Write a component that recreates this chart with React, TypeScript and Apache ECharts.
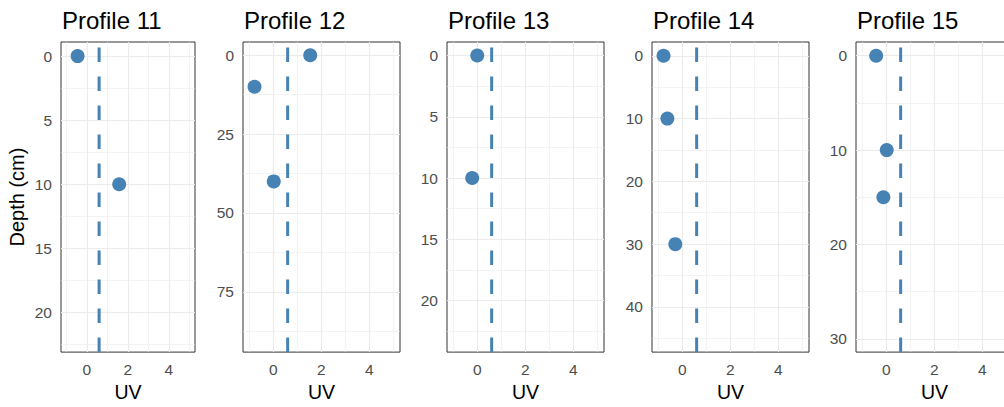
import React, { useEffect, useRef } from "react";
import * as echarts from "echarts";

// ---- data ----
const profileNames = ["Profile 11", "Profile 12", "Profile 13", "Profile 14", "Profile 15"];

const uvP11 = [-0.45, 1.58];
const depthP11 = [0, 10];
const uvP12 = [1.54, -0.78, 0.02];
const depthP12 = [0, 10, 40];
const uvP13 = [0.0, -0.21];
const depthP13 = [0, 10];
const uvP14 = [-0.78, -0.62, -0.29];
const depthP14 = [0, 10, 30];
const uvP15 = [-0.42, 0.02, -0.12];
const depthP15 = [0, 10, 15];

const uvThreshold = 0.6;

const uvTicks = [0, 2, 4];
const uvMinorTicks = [-1, 1, 3, 5];
const uvRange = [-1.26, 5.28];

const depthTicks = [
  [0, 5, 10, 15, 20],
  [0, 25, 50, 75],
  [0, 5, 10, 15, 20],
  [0, 10, 20, 30, 40],
  [0, 10, 20, 30],
];
const depthMinorTicks = [
  [2.5, 7.5, 12.5, 17.5, 22.5],
  [12.5, 37.5, 62.5, 87.5],
  [2.5, 7.5, 12.5, 17.5, 22.5],
  [5, 15, 25, 35, 45],
  [5, 15, 25],
];
const depthRanges = [
  [-1.1, 23.1],
  [-4.2, 94.1],
  [-1.1, 24.2],
  [-2.2, 47.2],
  [-1.45, 31.4],
];

const uvValues = [uvP11, uvP12, uvP13, uvP14, uvP15];
const depthValues = [depthP11, depthP12, depthP13, depthP14, depthP15];

// ---- layout (pixels) ----
const panelLefts = [61, 243, 447, 652, 856];
const panelWidths = [134, 157, 157, 157, 157];
const panelTop = 42;
const panelHeight = 313;

const FONT = "'Liberation Sans', Arial, Helvetica, sans-serif";
const POINT = "#4682B4";

export default function App() {
  const ref = useRef<HTMLDivElement>(null);

  useEffect(() => {
    document.body.style.margin = "0";
    document.body.style.overflow = "hidden";
    if (!ref.current) return;
    const chart = echarts.init(ref.current, null, { renderer: "svg" });

    const grids: any[] = [];
    const xAxes: any[] = [];
    const yAxes: any[] = [];
    const series: any[] = [];
    const graphics: any[] = [];

    profileNames.forEach((name, i) => {
      grids.push({
        left: panelLefts[i],
        top: panelTop,
        width: panelWidths[i],
        height: panelHeight,
        show: true,
        borderColor: "#333333",
        borderWidth: 1,
        backgroundColor: "#ffffff",
        containLabel: false,
      });
      xAxes.push({
        type: "value",
        gridIndex: i,
        min: uvRange[0],
        max: uvRange[1],
        name: "UV",
        nameLocation: "middle",
        nameGap: 28,
        nameTextStyle: { fontSize: 19.5, color: "#000000", fontFamily: FONT },
        axisLine: { show: false },
        axisTick: {
          show: true,
          customValues: uvTicks,
          length: 5,
          lineStyle: { color: "#333333", width: 1 },
        },
        axisLabel: {
          customValues: uvTicks,
          margin: 9,
          fontSize: 15.5,
          color: "#4D4D4D",
          fontFamily: FONT,
        },
        splitLine: { show: false },
      });
      yAxes.push({
        type: "value",
        gridIndex: i,
        inverse: true,
        min: depthRanges[i][0],
        max: depthRanges[i][1],
        name: i === 0 ? "Depth (cm)" : "",
        nameLocation: "middle",
        nameGap: 34,
        nameTextStyle: { fontSize: 20, color: "#000000", fontFamily: FONT },
        axisLine: { show: false },
        axisTick: {
          show: true,
          customValues: depthTicks[i],
          length: 5,
          lineStyle: { color: "#333333", width: 1 },
        },
        axisLabel: {
          customValues: depthTicks[i],
          margin: 9,
          fontSize: 15.5,
          color: "#4D4D4D",
          fontFamily: FONT,
        },
        splitLine: { show: false },
      });

      const gridLines: any[] = [];
      uvMinorTicks.forEach((v) =>
        gridLines.push({ xAxis: v, lineStyle: { color: "#EBEBEB", width: 0.6, type: "solid" } })
      );
      depthMinorTicks[i].forEach((v) =>
        gridLines.push({ yAxis: v, lineStyle: { color: "#EBEBEB", width: 0.6, type: "solid" } })
      );
      uvTicks.forEach((v) =>
        gridLines.push({ xAxis: v, lineStyle: { color: "#EBEBEB", width: 1.1, type: "solid" } })
      );
      depthTicks[i].forEach((v) =>
        gridLines.push({ yAxis: v, lineStyle: { color: "#EBEBEB", width: 1.1, type: "solid" } })
      );

      // threshold line (drawn from bottom to top) + panel grid lines
      series.push({
        type: "line",
        xAxisIndex: i,
        yAxisIndex: i,
        data: [
          [uvThreshold, depthRanges[i][1]],
          [uvThreshold, depthRanges[i][0]],
        ],
        symbol: "none",
        silent: true,
        z: 2,
        lineStyle: { color: POINT, width: 3, type: [14.5, 14.5] },
        markLine: {
          silent: true,
          symbol: ["none", "none"],
          label: { show: false },
          z: 1,
          animation: false,
          data: gridLines,
        },
      });

      series.push({
        type: "scatter",
        xAxisIndex: i,
        yAxisIndex: i,
        data: uvValues[i].map((u, k) => [u, depthValues[i][k]]),
        symbol: "circle",
        symbolSize: 14,
        z: 3,
        itemStyle: { color: POINT, opacity: 1 },
      });

      graphics.push({
        type: "text",
        x: panelLefts[i] + 1,
        y: 20,
        style: {
          text: name,
          fontSize: 24,
          fontFamily: FONT,
          fill: "#000000",
          textAlign: "left",
          textVerticalAlign: "middle",
        },
      });
    });

    chart.setOption({
      animation: false,
      backgroundColor: "#ffffff",
      textStyle: { fontFamily: FONT },
      grid: grids,
      xAxis: xAxes,
      yAxis: yAxes,
      series,
      graphic: graphics,
    });

    return () => chart.dispose();
  }, []);

  return (
    <div
      style={{
        position: "absolute",
        left: 0,
        top: 0,
        width: 1004,
        height: 407,
        overflow: "hidden",
      }}
    >
      <div ref={ref} style={{ width: 1024, height: 407 }} />
    </div>
  );
}
